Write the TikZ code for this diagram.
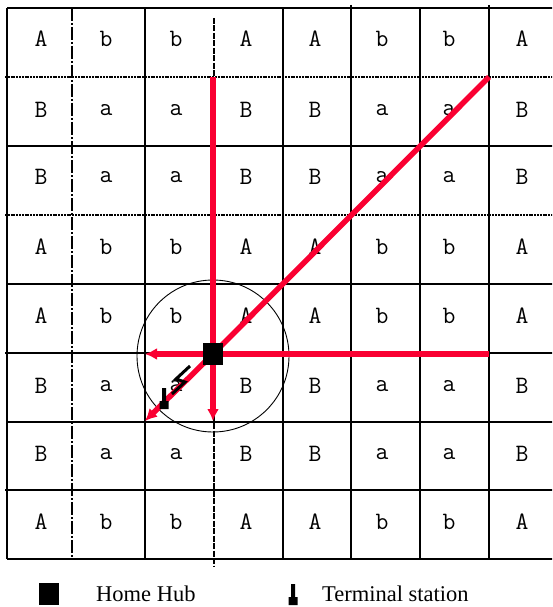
\documentclass[tikz,border=0pt]{standalone}
\usepackage{fontspec}
\setmainfont{Liberation Serif}
\usetikzlibrary{arrows.meta}
\definecolor{linkred}{RGB}{250,0,50}

% terminal station: a base with a narrow spike on top
\newcommand\terminal[2]{%
  \coordinate (#1) at (#2);
  \fill[shift={(#1)}] (-4.5,0) rectangle (4.5,-8) (-2,-7) rectangle (2,-21);}

\begin{document}
\begin{tikzpicture}[
  x=1pt,y=-1pt,
  cell/.style={font=\ttfamily\fontsize{25}{25}\selectfont,inner sep=0pt},
  legend/.style={font=\fontsize{22.5}{22.5}\selectfont,inner sep=0pt,anchor=west},
  gridline/.style={line width=1.2pt},
  bold/.style={line width=2.6pt},
  dotbold/.style={line width=2.4pt,dash pattern=on 2pt off 0.8pt},
  dashbold/.style={line width=2pt,dash pattern=on 6pt off 1.5pt},
  dashdot/.style={line width=1.2pt,dash pattern=on 13pt off 2pt on 2pt off 2pt},
  link/.style={linkred,line width=5.5pt},
  hub/.style={fill=black,minimum width=20pt,minimum height=22pt,inner sep=0pt},
  cover/.style={circle,draw,line width=0.9pt,minimum size=152pt,inner sep=0pt},
  bolt/.style={line width=3pt,line join=miter},
  >={Latex[length=12pt,width=12pt]}
]
\useasboundingbox (0,0) rectangle (552,607);
\clip (0,0) rectangle (552,607);

% ---------------- grid ----------------
\draw[gridline] (7,8) -- (558,8);
\draw[gridline] (7,146) -- (558,146);
\draw[gridline] (7,284) -- (558,284);
\draw[gridline] (7,422) -- (558,422);
\draw[gridline] (7,559) -- (558,559);
\draw[dotbold] (5,77) -- (558,77);
\draw[dotbold] (5,215) -- (558,215);
\draw[bold] (5,353) -- (558,353);
\draw[bold] (5,490) -- (558,490);

\draw[gridline] (7,8) -- (7,559);
\draw[dashdot] (72,8) -- (72,559);
\draw[gridline] (145,8) -- (145,559);
\draw[dashbold] (214,18) -- (214,567);
\draw[gridline] (283,8) -- (283,559);
\draw[bold] (351,5) -- (351,559);
\draw[gridline] (420,8) -- (420,559);
\draw[bold] (489,5) -- (489,559);
\draw[gridline] (558,8) -- (558,559);

% ---------------- cells ----------------
\foreach \y/\U/\l [count=\r] in {39/A/b,110/B/a,177/B/a,247/A/b,316/A/b,386/B/a,454/B/a,522/A/b}
  \foreach \x/\k [count=\c] in {41/1,106/0,176/0,246/1,315/1,382/0,449/0,522/1}
    \node[cell] (c-\r-\c) at (\x,\y) {\ifnum\k=1 \U\else\l\fi};

% ---------------- coverage ----------------
\node[cover] (cov) at (213,356) {};
\coordinate (hc) at (213,354);
\coordinate (up) at (213,77);
\coordinate (dn) at (213,421);
\coordinate (lt) at (145,354);
\coordinate (rt) at (489,354);
\coordinate (ne) at (489,77);
\coordinate (sw) at (145,421);
\draw[link] (hc) -- (up);
\draw[link] (hc) -- (rt);
\draw[link] (hc) -- (ne);
\draw[link,->] (hc) -- (dn);
\draw[link,->] (hc) -- (lt);
\draw[link,->] (hc) -- (sw);
\node[hub] (hub) at (hc) {};

% radio link to the terminal
\coordinate (b1) at (190,366);
\coordinate (b2) at (176,379);
\coordinate (b3) at (185,382);
\coordinate (b4) at (172,394);
\draw[bolt] (b1) -- (b2) -- (b3) -- (b4);
\terminal{ts}{164,409}

% ---------------- legend ----------------
\node[hub] (lhub) at (49,594) {};
\node[legend] (lhubt) at (96,594) {Home Hub};
\terminal{lts}{293,605}
\node[legend] (ltst) at (322,594) {Terminal station};
\end{tikzpicture}
\end{document}
